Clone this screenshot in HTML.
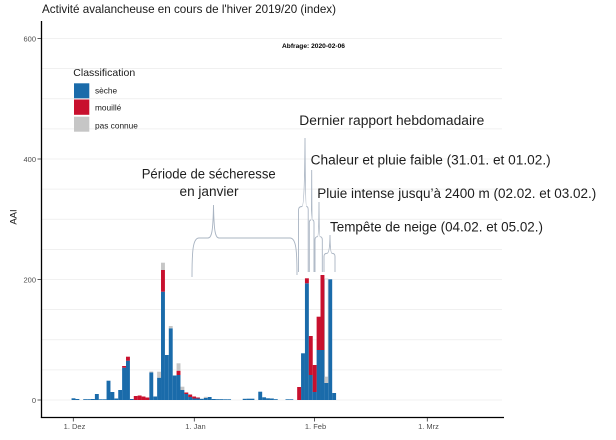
<!DOCTYPE html>
<html><head><meta charset="utf-8"><style>
html,body{margin:0;padding:0;background:#fff;}
svg{display:block;}
text{font-family:"Liberation Sans",Arial,sans-serif;}
</style></head><body>
<svg width="616" height="440" viewBox="0 0 616 440" xmlns="http://www.w3.org/2000/svg">
<rect width="616" height="440" fill="#fff"/>
<text x="42" y="13" font-size="12" fill="#1a1a1a" textLength="294" lengthAdjust="spacingAndGlyphs">Activité avalancheuse en cours de l'hiver 2019/20 (index)</text>
<g stroke="#ececec" stroke-width="0.7">
<line x1="42" y1="400" x2="502" y2="400"/>
<line x1="42" y1="369.9" x2="502" y2="369.9"/>
<line x1="42" y1="339.75" x2="502" y2="339.75"/>
<line x1="42" y1="309.6" x2="502" y2="309.6"/>
<line x1="42" y1="279.5" x2="502" y2="279.5"/>
<line x1="42" y1="249.4" x2="502" y2="249.4"/>
<line x1="42" y1="219.25" x2="502" y2="219.25"/>
<line x1="42" y1="189.1" x2="502" y2="189.1"/>
<line x1="42" y1="159" x2="502" y2="159"/>
<line x1="42" y1="128.9" x2="502" y2="128.9"/>
<line x1="42" y1="98.75" x2="502" y2="98.75"/>
<line x1="42" y1="68.6" x2="502" y2="68.6"/>
<line x1="42" y1="38.5" x2="502" y2="38.5"/>
</g>
<g fill="#1a6baa">
<rect x="71.55" y="398.3" width="3.9" height="1.7"/>
<rect x="75.44" y="399" width="3.9" height="1"/>
<rect x="83.22" y="399.2" width="3.9" height="0.8"/>
<rect x="87.11" y="399.2" width="3.9" height="0.8"/>
<rect x="91.0" y="399" width="3.9" height="1"/>
<rect x="94.89" y="394" width="3.9" height="6"/>
<rect x="98.78" y="399.3" width="3.9" height="0.7"/>
<rect x="102.67" y="399.3" width="3.9" height="0.7"/>
<rect x="106.56" y="380.7" width="3.9" height="19.3"/>
<rect x="110.45" y="392" width="3.9" height="8"/>
<rect x="114.34" y="398.5" width="3.9" height="1.5"/>
<rect x="118.23" y="390" width="3.9" height="10"/>
<rect x="122.12" y="367.7" width="3.9" height="32.3"/>
<rect x="126.01" y="360.7" width="3.9" height="39.3"/>
<rect x="129.9" y="399" width="3.9" height="1"/>
<rect x="149.35" y="372.5" width="3.9" height="27.5"/>
<rect x="153.24" y="396.5" width="3.9" height="3.5"/>
<rect x="157.13" y="377.7" width="3.9" height="22.3"/>
<rect x="161.02" y="291.7" width="3.9" height="108.3"/>
<rect x="164.91" y="355" width="3.9" height="45"/>
<rect x="168.8" y="328.3" width="3.9" height="71.7"/>
<rect x="172.69" y="375.5" width="3.9" height="24.5"/>
<rect x="176.58" y="375" width="3.9" height="25"/>
<rect x="180.47" y="390" width="3.9" height="10"/>
<rect x="184.36" y="394" width="3.9" height="6"/>
<rect x="188.25" y="397" width="3.9" height="3"/>
<rect x="192.14" y="398.5" width="3.9" height="1.5"/>
<rect x="196.03" y="398.5" width="3.9" height="1.5"/>
<rect x="199.92" y="398.8" width="3.9" height="1.2"/>
<rect x="203.81" y="398" width="3.9" height="2"/>
<rect x="207.7" y="397" width="3.9" height="3"/>
<rect x="211.59" y="399" width="3.9" height="1"/>
<rect x="215.48" y="399.2" width="3.9" height="0.8"/>
<rect x="219.37" y="399.2" width="3.9" height="0.8"/>
<rect x="223.26" y="399.3" width="3.9" height="0.7"/>
<rect x="227.15" y="399.3" width="3.9" height="0.7"/>
<rect x="242.71" y="398.8" width="3.9" height="1.2"/>
<rect x="246.6" y="398.7" width="3.9" height="1.3"/>
<rect x="250.49" y="398.7" width="3.9" height="1.3"/>
<rect x="258.27" y="391.7" width="3.9" height="8.3"/>
<rect x="262.16" y="397.3" width="3.9" height="2.7"/>
<rect x="266.05" y="398.3" width="3.9" height="1.7"/>
<rect x="269.94" y="398.5" width="3.9" height="1.5"/>
<rect x="273.83" y="399.2" width="3.9" height="0.8"/>
<rect x="285.5" y="399.3" width="3.9" height="0.7"/>
<rect x="289.39" y="399.3" width="3.9" height="0.7"/>
<rect x="301.06" y="353.3" width="3.9" height="46.7"/>
<rect x="304.95" y="283.3" width="3.9" height="116.7"/>
<rect x="308.84" y="375" width="3.9" height="25"/>
<rect x="312.73" y="392" width="3.9" height="8"/>
<rect x="316.62" y="350" width="3.9" height="50"/>
<rect x="320.51" y="350" width="3.9" height="50"/>
<rect x="324.4" y="383" width="3.9" height="17"/>
<rect x="328.29" y="279.3" width="3.9" height="120.7"/>
<rect x="332.18" y="393" width="3.9" height="7"/>
</g>
<g fill="#c8102e">
<rect x="122.12" y="366" width="3.9" height="1.7"/>
<rect x="126.01" y="356.7" width="3.9" height="4"/>
<rect x="133.79" y="396" width="3.9" height="4"/>
<rect x="137.68" y="395.5" width="3.9" height="4.5"/>
<rect x="141.57" y="396.5" width="3.9" height="3.5"/>
<rect x="145.46" y="397.5" width="3.9" height="2.5"/>
<rect x="161.02" y="270" width="3.9" height="21.7"/>
<rect x="176.58" y="370.7" width="3.9" height="4.3"/>
<rect x="184.36" y="392.5" width="3.9" height="1.5"/>
<rect x="188.25" y="394.5" width="3.9" height="2.5"/>
<rect x="192.14" y="396.5" width="3.9" height="2"/>
<rect x="196.03" y="397.5" width="3.9" height="1"/>
<rect x="297.17" y="387" width="3.9" height="13"/>
<rect x="304.95" y="278.3" width="3.9" height="5"/>
<rect x="308.84" y="336" width="3.9" height="39"/>
<rect x="312.73" y="365" width="3.9" height="27"/>
<rect x="316.62" y="316.7" width="3.9" height="33.3"/>
<rect x="320.51" y="275" width="3.9" height="75"/>
</g>
<g fill="#c6c6c6">
<rect x="149.35" y="371.5" width="3.9" height="1"/>
<rect x="157.13" y="371.7" width="3.9" height="6"/>
<rect x="161.02" y="262.7" width="3.9" height="7.3"/>
<rect x="168.8" y="326" width="3.9" height="2.3"/>
<rect x="176.58" y="363.3" width="3.9" height="7.4"/>
<rect x="180.47" y="386.7" width="3.9" height="3.3"/>
<rect x="203.81" y="396.8" width="3.9" height="1.2"/>
<rect x="324.4" y="377" width="3.9" height="6"/>
</g>
<rect x="324.7" y="279" width="3.4" height="98" fill="#fff" stroke="#b9c0c9" stroke-width="0.6"/>
<!-- braces -->
<g fill="none" stroke="#a9b4c2" stroke-width="0.9">
<path d="M192,277 C192,250 193,238 199,238 L208,238 C212,238 213,230 213.5,205 C214,230 215,238 219,238 L290,238 C296,238 297,250 297,275"/>
<path d="M298.5,272 L298.5,210 Q298.5,206.5 302,206.5 Q304.6,206.5 305,138 Q305.4,206.5 306.5,206.5 Q308.2,206.5 308.2,210 L308.2,272"/>
<path d="M309.3,272 L309.3,223 Q309.3,220 311,220 Q311.5,220 311.7,170 Q311.9,220 312.5,220 Q314,220 314,223 L314,272"/>
<path d="M315,272 L315,240 Q315,236.7 317.5,236.7 Q318.8,236.7 319,202 Q319.2,236.7 320,236.7 Q322.3,236.7 322.3,240 L322.3,272"/>
<path d="M324,272 L324,256.5 Q324,253.3 327,253.3 Q329.8,253.3 330,235 Q330.2,253.3 332,253.3 Q335,253.3 335,256.5 L335,272"/>
</g>
<!-- annotations -->
<g fill="#1e1e1e" font-size="13.5">
<text x="141.7" y="178.5" textLength="134" lengthAdjust="spacingAndGlyphs">Période de sécheresse</text>
<text x="179.5" y="196" textLength="59" lengthAdjust="spacingAndGlyphs">en janvier</text>
<text x="299.3" y="125" textLength="185" lengthAdjust="spacingAndGlyphs">Dernier rapport hebdomadaire</text>
<text x="310.7" y="164.5" textLength="240" lengthAdjust="spacingAndGlyphs">Chaleur et pluie faible (31.01. et 01.02.)</text>
<text x="317.3" y="198" textLength="279" lengthAdjust="spacingAndGlyphs">Pluie intense jusqu’à 2400 m (02.02. et 03.02.)</text>
<text x="330" y="231.5" textLength="213" lengthAdjust="spacingAndGlyphs">Tempête de neige (04.02. et 05.02.)</text>
</g>
<text x="282" y="48" font-size="6" font-weight="bold" fill="#000" textLength="63" lengthAdjust="spacingAndGlyphs">Abfrage: 2020-02-06</text>
<!-- legend -->
<text x="73.3" y="76" font-size="10.5" fill="#1a1a1a">Classification</text>
<rect x="74" y="83.3" width="15.3" height="15" fill="#1a6baa"/>
<rect x="74" y="99.5" width="15.3" height="15.3" fill="#c8102e"/>
<rect x="74" y="116.7" width="15.3" height="15" fill="#c6c6c6"/>
<g font-size="8.3" fill="#1a1a1a">
<text x="95" y="93.7">sèche</text>
<text x="95" y="110.3">mouillé</text>
<text x="95" y="128.3">pas connue</text>
</g>
<!-- axes -->
<g stroke="#000" stroke-width="1.3">
<line x1="41.5" y1="21" x2="41.5" y2="418"/>
<line x1="40.9" y1="417.5" x2="504" y2="417.5"/>
</g>
<g stroke="#333" stroke-width="0.8">
<line x1="37.5" y1="38.5" x2="41" y2="38.5"/>
<line x1="37.5" y1="159" x2="41" y2="159"/>
<line x1="37.5" y1="279.5" x2="41" y2="279.5"/>
<line x1="37.5" y1="400" x2="41" y2="400"/>
<line x1="73.3" y1="418" x2="73.3" y2="421.5"/>
<line x1="194.3" y1="418" x2="194.3" y2="421.5"/>
<line x1="314.5" y1="418" x2="314.5" y2="421.5"/>
<line x1="427.3" y1="418" x2="427.3" y2="421.5"/>
</g>
<g font-size="7.5" fill="#4d4d4d" text-anchor="end">
<text x="36" y="41.3">600</text>
<text x="36" y="161.8">400</text>
<text x="36" y="282.3">200</text>
<text x="36" y="402.8">0</text>
</g>
<g font-size="7.5" fill="#4d4d4d" text-anchor="middle">
<text x="74.5" y="429">1. Dez</text>
<text x="195.5" y="429">1. Jan</text>
<text x="315.5" y="429">1. Feb</text>
<text x="428.5" y="429">1. Mrz</text>
</g>
<text transform="translate(16.5,217) rotate(-90)" font-size="9.5" fill="#1a1a1a" text-anchor="middle">AAI</text>
</svg>
</body></html>
